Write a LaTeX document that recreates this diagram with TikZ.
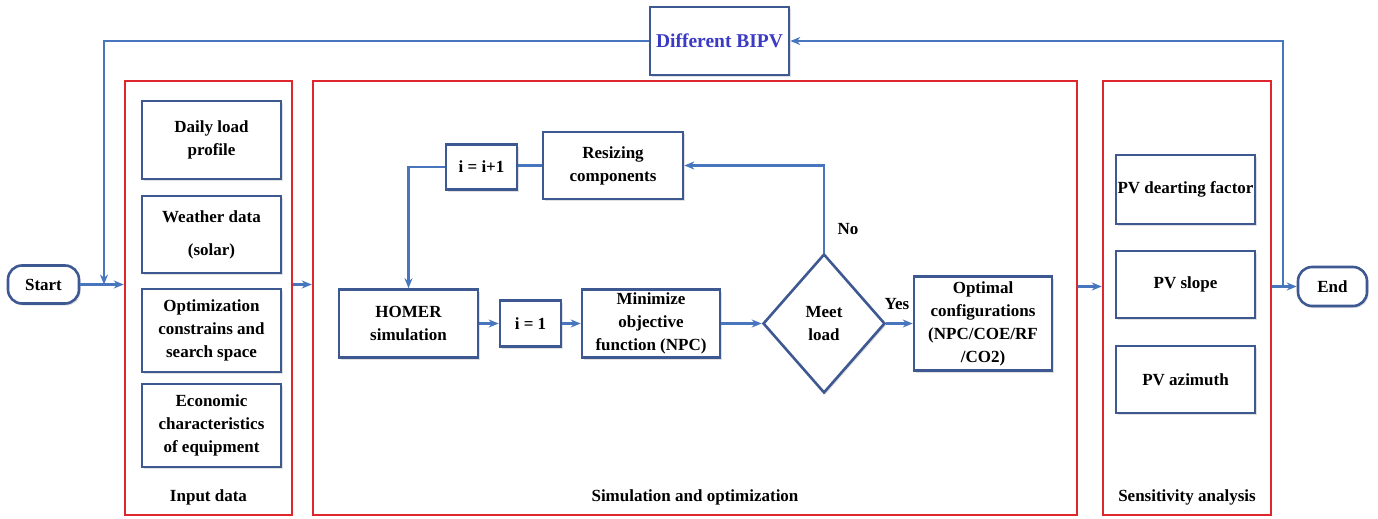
\documentclass[tikz,border=0pt]{standalone}
\usepackage{fontspec}
\setmainfont{Liberation Serif}
\usetikzlibrary{arrows.meta,shapes.geometric,shadows}
\definecolor{boxblue}{RGB}{62,88,145}
\definecolor{lineblue}{RGB}{72,118,190}
\definecolor{redbox}{RGB}{222,38,45}
\definecolor{bipvtext}{RGB}{58,58,196}
\tikzset{
  txt/.style={font=\bfseries\fontsize{17}{23}\selectfont, align=center, text=black},
  shad/.style={drop shadow={opacity=0.12, shadow xshift=1.5pt, shadow yshift=-2pt, fill=black}},
  bbox/.style={txt, draw=boxblue, line width=2.6pt, inner sep=0pt, fill=white, shad},
  rbox/.style={draw=redbox, line width=2.4pt, inner sep=0pt},
  conn/.style={draw=lineblue, line width=2.2pt},
  arr/.style={conn, -{Stealth[length=10pt,width=8pt]}},
  term/.style={bbox, rounded corners=14pt},
}
\begin{document}
\begin{tikzpicture}[x=1pt,y=-1pt]
\useasboundingbox (0,0) rectangle (1378,519);
% red groups
\node[rbox, minimum width=167pt, minimum height=434pt] (input) at (208.5,298) {};
\node[rbox, minimum width=764pt, minimum height=434pt] (sim) at (695,298) {};
\node[rbox, minimum width=168pt, minimum height=434pt] (sens) at (1187,298) {};
\node[txt] (linput) at (208.5,497) {Input data};
\node[txt] (lsim) at (695,497) {Simulation and optimization};
\node[txt] (lsens) at (1187,497) {Sensitivity analysis};
% top box
\node[bbox, minimum width=139pt, minimum height=68pt, font=\bfseries\fontsize{19.5}{23}\selectfont, text=bipvtext] (bipv) at (719.5,41) {Different BIPV};
% terminals
\node[term, minimum width=71pt, minimum height=38pt] (start) at (43.5,284.5) {Start};
\node[term, minimum width=69pt, minimum height=39pt] (end) at (1332.5,286.5) {End};
% input boxes
\node[bbox, minimum width=139pt, minimum height=78pt] (daily) at (211.5,140) {Daily load\\profile};
\node[bbox, minimum width=139pt, minimum height=77pt] (weather) at (211.5,234.5) {Weather data\\[10pt](solar)};
\node[bbox, minimum width=139pt, minimum height=83pt] (optim) at (211.5,330.5) {Optimization\\constrains and\\search space};
\node[bbox, minimum width=139pt, minimum height=83pt] (econ) at (211.5,425.5) {Economic\\characteristics\\of equipment};
% simulation boxes
\node[bbox, minimum width=139pt, minimum height=68pt] (homer) at (408.5,323.5) {HOMER\\simulation};
\node[bbox, minimum width=61pt, minimum height=46pt] (ione) at (530.5,323.5) {i = 1};
\node[bbox, minimum width=138pt, minimum height=68pt] (mini) at (651,323.5) {Minimize\\objective\\function (NPC)};
\node[bbox, diamond, minimum width=122pt, minimum height=139pt] (meet) at (824,323.5) {Meet\\load};
\node[bbox, minimum width=138pt, minimum height=94pt] (optc) at (983,323.5) {Optimal\\configurations\\(NPC/COE/RF\\/CO2)};
\node[bbox, minimum width=140pt, minimum height=67pt] (resize) at (613,165.5) {Resizing\\components};
\node[bbox, minimum width=71pt, minimum height=45pt] (iinc) at (481.5,167) {i = i+1};
% sensitivity boxes
\node[bbox, minimum width=139pt, minimum height=69pt] (pvd) at (1185.5,189.5) {PV dearting factor};
\node[bbox, minimum width=139pt, minimum height=67pt] (pvs) at (1185.5,284.5) {PV slope};
\node[bbox, minimum width=139pt, minimum height=67pt] (pva) at (1185.5,379.5) {PV azimuth};
% labels
\node[txt] (lno) at (848,229) {No};
\node[txt] (lyes) at (897,304) {Yes};
% junction coordinates
\coordinate (lj) at (104,284.5);
\coordinate (rj) at (1283,286.5);
% connectors
\draw[arr] (start.east) -- (start.east -| input.west);
\draw[arr] (input.east |- start) -- (sim.west |- start);
\draw[arr] (sim.east |- end) -- (sens.west |- end);
\draw[arr] (sens.east |- end) -- (end.west);
\draw[arr] (rj) |- (bipv.east);
\draw[arr] (bipv.west) -| (lj);
\draw[arr] (homer.east) -- (ione.west);
\draw[arr] (ione.east) -- (mini.west);
\draw[arr] (mini.east) -- (meet.west);
\draw[arr] (meet.east) -- (optc.west);
\draw[arr] (meet.north) |- (resize.east);
\draw[conn] (resize.west) -- (resize.west -| iinc.east);
\draw[arr] (iinc.west) -| (homer.north);
\end{tikzpicture}
\end{document}
